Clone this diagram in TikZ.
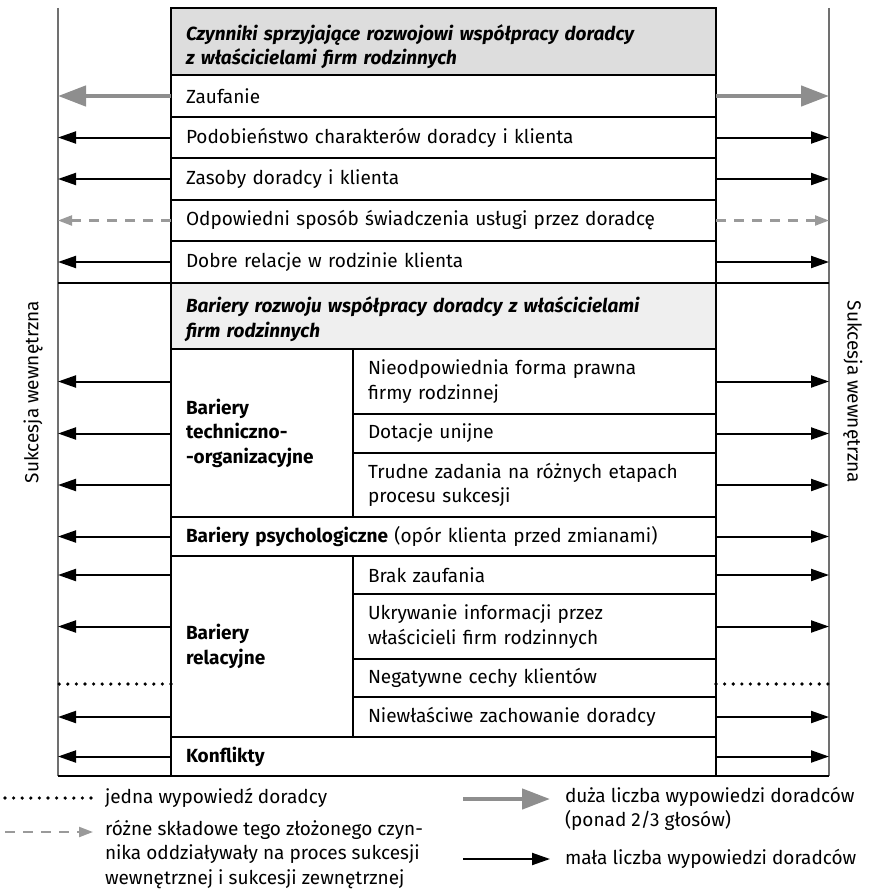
\documentclass[tikz,border=0pt]{standalone}
\usepackage{fontspec}
\setmainfont{Fira Sans}
\usetikzlibrary{arrows.meta}

\definecolor{headA}{HTML}{DDDDDD}
\definecolor{headB}{HTML}{EFEFEF}
\definecolor{manyvotes}{HTML}{8E8E8E}
\definecolor{mixedarrow}{HTML}{9A9A9A}
\definecolor{sideline}{HTML}{707070}

\newcommand{\bodyfont}{\fontsize{19}{24.5}\selectfont}

\begin{document}
\begin{tikzpicture}[x=1pt,y=-1pt,
  font=\bodyfont,
  cell/.style 2 args={draw=black, line width=1.1pt, anchor=north west,
    inner xsep=15pt, inner ysep=0pt, outer sep=0pt,
    text width=#1, minimum height=#2, align=left},
  headcell/.style={font=\bodyfont\bfseries\itshape},
  boldcell/.style={font=\bodyfont\bfseries},
  rule/.style={draw=black, line width=1.1pt},
  frameline/.style={draw=sideline, line width=1.5pt},
  many/.style={draw=manyvotes, line width=4.5pt,
    -{Triangle[length=28pt,width=20pt]}},
  few/.style={draw=black, line width=2pt,
    -{Triangle[length=18pt,width=12pt]}},
  mixed/.style={draw=mixedarrow, line width=2.2pt, dash pattern=on 10pt off 8pt,
    -{Triangle[length=14pt,width=10pt]}},
  single/.style={draw=black, line width=3.6pt, line cap=round,
    dash pattern=on 0pt off 8.6pt},
  legtext/.style={inner sep=0pt, outer sep=0pt, align=left},
  sidelabel/.style={inner sep=0pt}
]
\useasboundingbox (0,0) rectangle (885,891);

% side frame and full-width rules
\coordinate (L) at (58,0);
\coordinate (R) at (829,0);
\draw[frameline] (58,8) -- (58,776);
\draw[frameline] (829,8) -- (829,776);
\draw[rule] (58,283) -- (829,283);
\draw[rule] (58,776) -- (829,776);

% factors supporting cooperation
\node[cell={515pt}{67pt}, fill=headA, headcell] (h1) at (171,8)
  {\rule{0pt}{26pt}Czynniki sprzyjające rozwojowi współpracy doradcy\\z właścicielami firm rodzinnych};
\node[cell={515pt}{42pt}] (zauf) at (171,75) {Zaufanie};
\node[cell={515pt}{41pt}] (podob) at (171,117) {Podobieństwo charakterów doradcy i klienta};
\node[cell={515pt}{42pt}] (zasob) at (171,158) {Zasoby doradcy i klienta};
\node[cell={515pt}{41pt}] (odpow) at (171,200) {Odpowiedni sposób świadczenia usługi przez doradcę};
\node[cell={515pt}{42pt}] (dobre) at (171,241) {Dobre relacje w rodzinie klienta};

% barriers
\node[cell={515pt}{66pt}, fill=headB, headcell] (h2) at (171,283)
  {\rule{0pt}{22pt}Bariery rozwoju współpracy doradcy z właścicielami\\firm rodzinnych};
\node[cell={152pt}{168pt}, boldcell] (tech) at (171,349)
  {Bariery\\techniczno-\\-organizacyjne};
\node[cell={333pt}{65pt}] (forma) at (353,349) {Nieodpowiednia forma prawna\\firmy rodzinnej};
\node[cell={333pt}{39pt}] (dotac) at (353,414) {Dotacje unijne};
\node[cell={333pt}{64pt}] (trudne) at (353,453) {Trudne zadania na różnych etapach\\procesu sukcesji};
\node[cell={515pt}{39pt}] (psych) at (171,517)
  {\textbf{Bariery psychologiczne} (opór klienta przed zmianami)};
\node[cell={152pt}{181pt}, boldcell] (relac) at (171,556) {Bariery\\relacyjne};
\node[cell={333pt}{38pt}] (brak) at (353,556) {Brak zaufania};
\node[cell={333pt}{65pt}] (ukryw) at (353,594) {Ukrywanie informacji przez\\właścicieli firm rodzinnych};
\node[cell={333pt}{38pt}] (negat) at (353,659) {Negatywne cechy klientów};
\node[cell={333pt}{40pt}] (niewl) at (353,697) {Niewłaściwe zachowanie doradcy};
\node[cell={515pt}{39pt}, boldcell] (konfl) at (171,737) {Konflikty};

% side labels
\node[sidelabel, rotate=90] (sukL) at (33,392) {Sukcesja wewnętrzna};
\node[sidelabel, rotate=-90] (sukR) at (853,392) {Sukcesja wewnętrzna};

% arrows from full-width rows
\draw[many] (zauf.west) -- (zauf.west -| L);
\draw[many] (zauf.east) -- (zauf.east -| R);
\foreach \n in {podob,zasob,dobre,psych,konfl}{
  \draw[few] (\n.west) -- (\n.west -| L);
  \draw[few] (\n.east) -- (\n.east -| R);
}
\draw[mixed] (odpow.west) -- (odpow.west -| L);
\draw[mixed] (odpow.east) -- (odpow.east -| R);

% arrows from the sub-rows of the split blocks
\foreach \n in {forma,dotac,trudne}{
  \draw[few] (\n.west -| tech.west) -- (\n.west -| L);
  \draw[few] (\n.east) -- (\n.east -| R);
}
\foreach \n in {brak,ukryw,niewl}{
  \draw[few] (\n.west -| relac.west) -- (\n.west -| L);
  \draw[few] (\n.east) -- (\n.east -| R);
}
\draw[single] ([yshift=-6pt]negat.west -| relac.west) -- ([yshift=-6pt]negat.west -| L);
\draw[single] ([yshift=-6pt]negat.east) -- ([yshift=-6pt]negat.east -| R);

% legend
\node[legtext, anchor=west] (leg1) at (105,798) {jedna wypowiedź doradcy};
\coordinate (leg1s) at (5,798);
\draw[single] (leg1s) -- ([xshift=-12pt]leg1.west);

\node[legtext, anchor=north west] (leg2) at (105,820)
  {różne składowe tego złożonego czyn-\\nika oddziaływały na proces sukcesji\\wewnętrznej i sukcesji zewnętrznej};
\coordinate (leg2s) at (5,832);
\coordinate (leg2e) at (93,832);
\draw[mixed] (leg2s) -- (leg2e);

\node[legtext, anchor=north west] (leg3) at (565,787)
  {duża liczba wypowiedzi doradców\\(ponad 2/3 głosów)};
\coordinate (leg3s) at (463,799);
\coordinate (leg3e) at (550,799);
\draw[many] (leg3s) -- (leg3e);

\node[legtext, anchor=west] (leg4) at (565,859) {mała liczba wypowiedzi doradców};
\coordinate (leg4s) at (463,859);
\draw[few] (leg4s) -- ([xshift=-15pt]leg4.west);
\end{tikzpicture}
\end{document}
